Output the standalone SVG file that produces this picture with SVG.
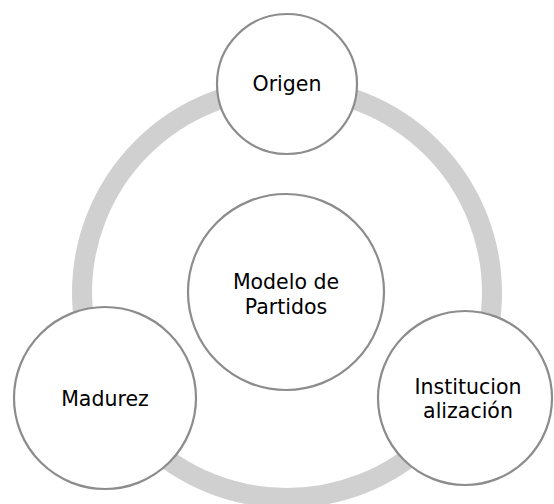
<svg xmlns="http://www.w3.org/2000/svg" width="554" height="504" viewBox="0 0 554 504">
<style>
.ring{fill:none;stroke:#d0d0d0;stroke-width:20}
.node{fill:#ffffff;stroke:#8c8c8c;stroke-width:2.2}
.lbl{font-family:"DejaVu Sans","Liberation Sans",sans-serif;font-size:20.5px;fill:#000000;text-anchor:middle}
</style>
<rect width="554" height="504" fill="#ffffff"/>
<g id="connectors">
<circle class="ring" cx="287" cy="293" r="205"/>
</g>
<g id="node-modelo">
<circle class="node" cx="286" cy="292" r="98"/>
<text class="lbl" x="286" y="289">Modelo de</text>
<text class="lbl" x="286" y="314">Partidos</text>
</g>
<g id="node-origen">
<circle class="node" cx="287" cy="84" r="70"/>
<text class="lbl" x="287" y="91">Origen</text>
</g>
<g id="node-madurez">
<circle class="node" cx="105" cy="398" r="91"/>
<text class="lbl" x="105" y="406">Madurez</text>
</g>
<g id="node-institucionalizacion">
<circle class="node" cx="465" cy="398" r="87"/>
<text class="lbl" x="468" y="394">Institucion</text>
<text class="lbl" x="468" y="418">alización</text>
</g>
</svg>
